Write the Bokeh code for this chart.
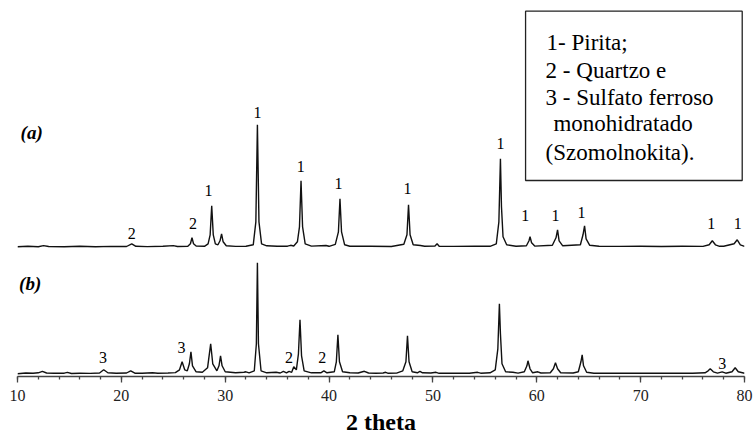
from bokeh.plotting import figure
from bokeh.models import Range1d, SingleIntervalTicker, BoxAnnotation
from bokeh.core.properties import value
from bokeh.embed import file_html
from bokeh.resources import INLINE

# ---- data ----
# pattern (a): 2-theta vertices and intensity (arbitrary units)
two_theta_a = [10.0, 11.0, 12.0, 12.5, 13.0, 14.5, 16.0, 17.5, 19.0, 20.5, 21.0, 21.4, 22.5, 24.0, 25.0, 25.4,
               26.4, 26.65, 26.8, 26.95, 27.2, 28.0, 28.35, 28.55, 28.7, 28.85, 29.05, 29.3, 29.5, 29.65, 29.8,
               30.1, 31.0, 32.0, 32.7, 32.95, 33.1, 33.25, 33.5, 34.0, 35.0, 36.0, 36.3, 36.6, 36.95, 37.15,
               37.3, 37.45, 37.7, 38.3, 39.7, 40.0, 40.6, 40.9, 41.05, 41.2, 41.5, 42.0, 44.0, 46.0, 47.2,
               47.5, 47.65, 47.8, 48.1, 48.8, 49.2, 50.2, 50.4, 50.6, 52.0, 54.0, 55.5, 56.1, 56.35, 56.5,
               56.6, 56.75, 57.1, 58.0, 59.0, 59.25, 59.35, 59.5, 59.8, 61.5, 61.85, 62.0, 62.15, 62.5, 64.2,
               64.45, 64.6, 64.75, 65.1, 66.0, 68.0, 70.0, 72.0, 74.0, 76.0, 76.6, 76.9, 77.2, 77.6, 78.0,
               79.0, 79.3, 79.6, 80.0]
intensity_a = [0, 0.5, 0, 1.2, 0.3, 0, 0.5, 0, 0.4, 0.3, 3, 0.5, 0.2, 0.5, 1.2, 0.3,
               0.5, 3, 9, 3, 0.8, 0.5, 3, 12, 41, 12, 3, 2, 6, 13, 5,
               1, 0.4, 0.5, 2, 25, 122, 25, 3, 1, 0.5, 0.6, 1.5, 0.8, 5, 20,
               66, 20, 3, 0.7, 1.3, 0.5, 2.5, 15, 48, 15, 2, 0.6, 0.5, 0.3, 2.5,
               12, 42, 12, 2, 1.3, 0.5, 0.8, 3, 0.6, 0.4, 0.5, 0.5, 3, 25, 88,
               40, 10, 2, 0.5, 1, 6, 10, 4, 0.7, 1.5, 9, 17, 6, 1, 2,
               12, 21, 8, 1.5, 0.5, 0.4, 0.5, 0.3, 0.5, 0.4, 2, 6, 2, 0.5, 0.6,
               3, 7, 2, 0.5]

# pattern (b)
two_theta_b = [10.0, 10.8, 11.5, 12.0, 12.4, 12.8, 13.5, 14.5, 14.8, 15.2, 16.0, 17.0, 17.9, 18.3, 18.7, 19.5,
               20.5, 20.9, 21.3, 22.0, 23.0, 23.5, 24.5, 25.2, 25.6, 25.85, 26.1, 26.35, 26.55, 26.7, 26.85,
               27.2, 27.8, 28.3, 28.6, 28.8, 29.2, 29.4, 29.55, 29.7, 30.0, 31.0, 31.8, 32.0, 32.3, 32.8,
               33.0, 33.1, 33.2, 33.45, 34.0, 34.9, 35.3, 35.6, 35.9, 36.15, 36.4, 36.6, 36.85, 37.05, 37.2,
               37.35, 37.6, 38.3, 39.2, 39.5, 39.8, 40.5, 40.7, 40.85, 41.0, 41.3, 42.0, 42.8, 43.4, 43.8,
               44.5, 45.2, 45.45, 45.7, 46.5, 47.1, 47.4, 47.55, 47.7, 48.0, 48.5, 48.75, 49.0, 49.8, 50.3,
               50.6, 52.0, 53.5, 54.3, 54.6, 55.5, 56.0, 56.25, 56.4, 56.5, 56.65, 57.0, 57.7, 58.2, 58.8,
               59.05, 59.15, 59.35, 59.6, 60.1, 60.4, 61.3, 61.6, 61.8, 62.0, 62.3, 63.5, 64.0, 64.25, 64.37,
               64.5, 64.8, 65.5, 67.0, 69.0, 71.0, 73.0, 75.0, 76.2, 76.5, 76.7, 77.0, 77.4, 77.85, 78.2,
               78.8, 79.1, 79.4, 80.0]
intensity_b = [0, 0.8, 0.5, 1, 2.5, 0.8, 0.5, 0.6, 1.5, 0.3, 0.6, 0.4, 0.8, 4, 1, 0.5,
               0.8, 3, 0.6, 0.5, 1, 0.6, 0.8, 1.2, 4, 12, 4, 3, 10, 22, 8,
               2, 1.5, 6, 30, 10, 3, 8, 18, 8, 2, 1, 1.5, 2, 1, 3,
               30, 111, 30, 3, 1, 1.5, 0.8, 2.5, 1, 2.5, 1.5, 7, 4, 20, 54,
               18, 3, 1, 1, 3, 1, 2, 12, 39, 12, 2, 1, 0.8, 2.5, 0.8,
               0.6, 0.8, 1.5, 0.5, 0.7, 3, 12, 38, 12, 2, 1, 2.5, 1, 0.8, 1.5,
               0.5, 0.6, 0.5, 1.5, 0.6, 1, 4, 25, 70, 40, 10, 2, 1.5, 0.7, 2,
               8, 13, 5, 1, 2, 0.8, 1, 5, 11, 5, 1, 0.8, 2, 12, 19,
               8, 1.5, 0.6, 0.7, 0.5, 0.6, 0.5, 0.6, 1, 3, 5, 2, 0.6, 2, 0.6,
               2, 6, 2, 0.5]

offset_a = 127  # vertical offset of pattern (a)

# peak identification labels (phase number), height relative to each pattern's baseline
label_a_x = [21.0, 26.9, 28.4, 33.1, 37.27, 40.9, 47.54, 56.5, 58.9, 61.8, 64.3, 76.8, 79.35]
label_a_h = [13, 23, 56, 134, 80, 63, 58, 103, 31, 31, 34, 23, 23]
label_a_text = ["2", "2", "1", "1", "1", "1", "1", "1", "1", "1", "1", "1", "1"]

label_b_x = [18.24, 25.8, 36.14, 39.35, 77.85]
label_b_h = [16.6, 26.6, 16.6, 16.6, 10.3]
label_b_text = ["3", "3", "2", "2", "3"]

pattern_tags = ["(a)", "(b)"]

legend_lines = ["1- Pirita;", "2 - Quartzo e", "3 - Sulfato ferroso", "monohidratado", "(Szomolnokita)."]

x_ticks_interval = 10

SERIF = "Liberation Serif"

p = figure(width=756, height=438, output_backend="svg", toolbar_location=None,
           x_range=Range1d(10, 80), y_range=Range1d(-2.7, 373.3),
           min_border_left=17, min_border_right=12, min_border_top=0, min_border_bottom=62,
           y_axis_location=None)
p.outline_line_color = None
p.grid.visible = False
p.background_fill_color = "white"
p.border_fill_color = "white"

ax = p.xaxis[0]
ax.ticker = SingleIntervalTicker(interval=x_ticks_interval, num_minor_ticks=5)
ax.axis_line_color = "#444444"
ax.axis_line_width = 1.5
ax.major_tick_out = 6
ax.major_tick_in = 0
ax.minor_tick_out = 3
ax.minor_tick_in = 0
ax.major_tick_line_color = "#444444"
ax.minor_tick_line_color = "#444444"
ax.major_tick_line_width = 1.3
ax.minor_tick_line_width = 1.3
ax.major_label_text_font = "serif"
ax.major_label_text_font_size = "16px"
ax.major_label_text_color = "#222222"
ax.major_label_standoff = 7
ax.axis_label = "2 theta"
ax.axis_label_text_font = SERIF
ax.axis_label_text_font_style = "bold"
ax.axis_label_text_font_size = "24px"
ax.axis_label_text_color = "black"
ax.axis_label_standoff = 5

# legend box (drawn beneath the glyphs so its texts stay visible)
p.add_layout(BoxAnnotation(left=58.92, right=79.78, bottom=193.3, top=362.6,
                           fill_color="white", fill_alpha=1.0, line_color="#222222", line_width=1.3,
                           line_alpha=1.0, level="underlay"))

# traces
p.line(two_theta_a, [v + offset_a for v in intensity_a], line_color="#111111", line_width=1.4)
p.line(two_theta_b, intensity_b, line_color="#111111", line_width=1.4)

# peak labels
p.text(x=label_a_x, y=[h + offset_a for h in label_a_h], text=label_a_text,
       text_font=value(SERIF), text_font_size="16px", text_align="center", text_baseline="middle",
       text_color="black")
p.text(x=label_b_x, y=label_b_h, text=label_b_text,
       text_font=value(SERIF), text_font_size="16px", text_align="center", text_baseline="middle",
       text_color="black")

# pattern tags
p.text(x=[10.3, 10.15], y=[241.6, 90.3], text=pattern_tags, text_font=value(SERIF),
       text_font_style="bold italic", text_font_size="19px", text_baseline="middle", text_align="left",
       text_color="black")

# legend texts
legend_x = [60.94, 60.85, 60.85, 61.6, 60.85]
legend_y = [331.6, 303.3, 276.6, 250.3, 221.6]
p.text(x=legend_x, y=legend_y, text=legend_lines, text_font=value(SERIF), text_font_size="23px",
       text_align="left", text_baseline="middle", text_color="black")

open("out.html", "w").write(file_html(p, INLINE))
